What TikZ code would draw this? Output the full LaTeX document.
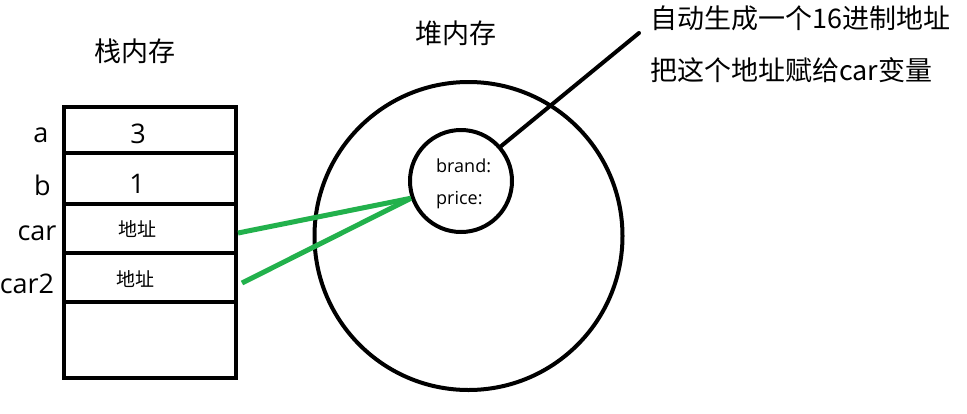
\documentclass[tikz,border=0pt]{standalone}
\usepackage{fontspec}
\setmainfont{Open Sans}
\newfontfamily\cjk{Noto Sans CJK SC}
\definecolor{paintgreen}{HTML}{22B14C}
\tikzset{
  big/.style={font=\fontsize{27}{32}\selectfont, inner sep=0pt},
  bigcjk/.style={font=\cjk\fontsize{27}{32}\selectfont, inner sep=0pt},
  smallcjk/.style={font=\cjk\fontsize{19}{23}\selectfont, inner sep=0pt},
  small/.style={font=\fontsize{18}{22}\selectfont, inner sep=0pt},
  cell/.style={draw, line width=4pt, minimum width=172pt, inner sep=0pt, anchor=center},
  ring/.style={draw, circle, line width=4pt, inner sep=0pt},
  ptr/.style={draw=paintgreen, line width=5pt},
  note/.style={draw=black, line width=4pt, line cap=round}
}
\begin{document}
\begin{tikzpicture}[x=1pt, y=-1pt]
\useasboundingbox (0,0) rectangle (967,413);
% stack
\node[cell, minimum height=46pt] (r1) at (150,130) {};
\node[cell, minimum height=51pt] (r2) at (150,178.5) {};
\node[cell, minimum height=49pt] (r3) at (150,228.5) {};
\node[cell, minimum height=49pt] (r4) at (150,277.5) {};
\node[cell, minimum height=76pt] (r5) at (150,340) {};
\node[bigcjk] (stitle) at (135,51.5) {栈内存};
\node[big, anchor=base] (la) at (41,142) {a};
\node[big, anchor=base] (lb) at (42.5,195) {b};
\node[big, anchor=base] (lcar) at (37,240) {car};
\node[big, anchor=base] (lcar2) at (27,293) {car2};
\node[big, anchor=base] (v3) at (138,143) {3};
\node[big, anchor=base] (v1) at (137,193) {1};
\node[smallcjk] (addr1) at (137,229.5) {地址};
\node[smallcjk] (addr2) at (135,279.5) {地址};
% heap
\node[bigcjk] (htitle) at (456,33.5) {堆内存};
\node[ring, minimum size=308pt] (heap) at (468.5,236) {};
\node[ring, minimum size=102pt] (obj) at (461,181) {};
\node[small, anchor=base west] (brand) at (436,172) {brand:};
\node[small, anchor=base west] (price) at (436,204) {price:};
% note
\coordinate (tip) at (639,33);
\node[bigcjk, anchor=west] (n1) at (650,18) {自动生成一个16进制地址};
\node[bigcjk, anchor=west] (n2) at (650,70) {把这个地址赋给car变量};
\draw[note] (obj.41) -- (tip);
% pointers
\draw[ptr] ([yshift=-4.5pt]r3.east) -- (obj.199);
\draw[ptr] ([xshift=4pt,yshift=-5.5pt]r4.east) -- (obj.199);
\end{tikzpicture}
\end{document}
